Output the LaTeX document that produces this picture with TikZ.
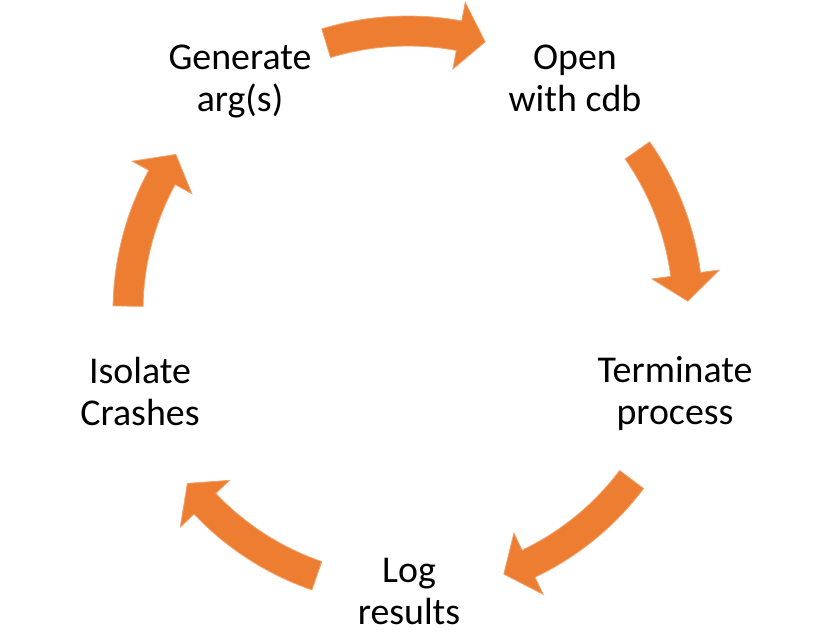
\documentclass[tikz,border=0pt]{standalone}
\usepackage{fontspec}
\setmainfont{Carlito}
\definecolor{cycleorange}{RGB}{237,125,49}
\tikzset{every picture/.style={line width=0.75pt}}
\tikzset{
  cyclearrow/.style={fill=cycleorange, draw=cycleorange!70!white, line width=0.6},
  steplabel/.style={anchor=base, inner sep=0.75pt, align=center, text=black,
    font=\fontsize{28.4}{31.5}\selectfont}
}
\begin{document}
\begin{tikzpicture}[x=0.75pt,y=0.75pt,yscale=-1,xscale=1]
\useasboundingbox (0,0) rectangle (818,633);

% Text Node
\node [steplabel] (gen) at (240,111) {Generate\\arg(s)};
% Text Node
\node [steplabel] (open) at (575,111) {Open\\with cdb};
% Text Node
\node [steplabel] (term) at (675,424) {Terminate\\process};
% Text Node
\node [steplabel] (logres) at (409,624) {Log\\results};
% Text Node
\node [steplabel] (isolate) at (140,425) {Isolate\\Crashes};

\begin{scope}[shift={(408,311)}]
%Shape: Curved Right Arrow (top)
\filldraw [cyclearrow] (-107:295) arc[start angle=-107, end angle=-79.5, radius=295] -- (-79.5:314) -- (-74:280) -- (-79.5:246) -- (-79.5:265) arc[start angle=-79.5, end angle=-107, radius=265] -- cycle ;
%Shape: Curved Right Arrow (right)
\filldraw [cyclearrow] (-35:295) arc[start angle=-35, end angle=-7.5, radius=295] -- (-7.5:314) -- (-2:280) -- (-7.5:246) -- (-7.5:265) arc[start angle=-7.5, end angle=-35, radius=265] -- cycle ;
%Shape: Curved Right Arrow (bottom right)
\filldraw [cyclearrow] (37:295) arc[start angle=37, end angle=64.5, radius=295] -- (64.5:314) -- (70:280) -- (64.5:246) -- (64.5:265) arc[start angle=64.5, end angle=37, radius=265] -- cycle ;
%Shape: Curved Right Arrow (bottom left)
\filldraw [cyclearrow] (109:295) arc[start angle=109, end angle=136.5, radius=295] -- (136.5:314) -- (142:280) -- (136.5:246) -- (136.5:265) arc[start angle=136.5, end angle=109, radius=265] -- cycle ;
%Shape: Curved Right Arrow (left)
\filldraw [cyclearrow] (-179:295) arc[start angle=-179, end angle=-151.5, radius=295] -- (-151.5:314) -- (-146:280) -- (-151.5:246) -- (-151.5:265) arc[start angle=-151.5, end angle=-179, radius=265] -- cycle ;
\end{scope}

\end{tikzpicture}
\end{document}
